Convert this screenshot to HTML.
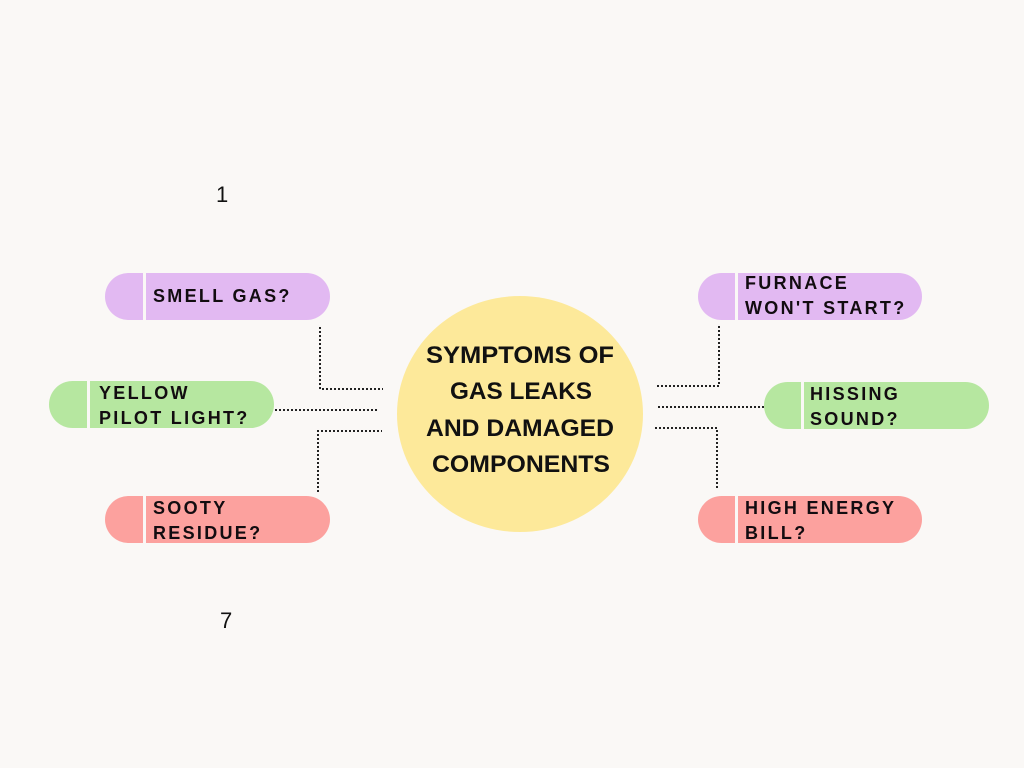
<!DOCTYPE html>
<html><head><style>
body{margin:0;width:1024px;height:768px;background:#faf8f6;position:relative;overflow:hidden;font-family:"Liberation Sans",sans-serif}
.p{position:absolute;height:47px;border-radius:24px;}
.p .d{position:absolute;top:0;bottom:0;width:3px;background:#faf8f6}
.p .t{position:absolute;font-weight:bold;font-size:18px;letter-spacing:2.3px;color:#120c10;line-height:25px;white-space:nowrap}
.pu{background:#e2b9f2}.gr{background:#b6e7a0}.rd{background:#fca19e}
.n{position:absolute;font-size:22px;color:#111}
</style></head><body>
<svg width="1024" height="768" style="position:absolute;left:0;top:0">
<ellipse cx="520" cy="414" rx="123" ry="118" fill="#fde99a"/>
<g stroke="#222" stroke-width="2" stroke-dasharray="2,2" fill="none">
<polyline points="320,327 320,389 383,389"/>
<line x1="275" y1="410" x2="378" y2="410"/>
<polyline points="318,492 318,431 382,431"/>
<polyline points="657,386 719,386 719,325"/>
<line x1="658" y1="407" x2="764" y2="407"/>
<polyline points="655,428 717,428 717,490"/>
</g>
<g font-family="Liberation Sans" font-weight="bold" font-size="24" fill="#111" text-anchor="middle">
<text x="520" y="363" textLength="188" lengthAdjust="spacingAndGlyphs">SYMPTOMS OF</text>
<text x="521" y="399" textLength="142" lengthAdjust="spacingAndGlyphs">GAS LEAKS</text>
<text x="520" y="436" textLength="188" lengthAdjust="spacingAndGlyphs">AND DAMAGED</text>
<text x="521" y="472" textLength="178" lengthAdjust="spacingAndGlyphs">COMPONENTS</text>
</g>
</svg>
<div class="n" style="left:216px;top:182px">1</div>
<div class="n" style="left:220px;top:608px">7</div>

<div class="p pu" style="left:105px;top:273px;width:225px"><div class="d" style="left:38px"></div><div class="t" style="left:48px;top:11px">SMELL GAS?</div></div>
<div class="p gr" style="left:49px;top:381px;width:225px"><div class="d" style="left:38px"></div><div class="t" style="left:50px;top:0px">YELLOW<br>PILOT LIGHT?</div></div>
<div class="p rd" style="left:105px;top:496px;width:225px"><div class="d" style="left:38px"></div><div class="t" style="left:48px;top:0px">SOOTY<br>RESIDUE?</div></div>

<div class="p pu" style="left:698px;top:273px;width:224px"><div class="d" style="left:37px"></div><div class="t" style="left:47px;top:-2px">FURNACE<br>WON'T START?</div></div>
<div class="p gr" style="left:764px;top:382px;width:225px"><div class="d" style="left:37px"></div><div class="t" style="left:46px;top:0px">HISSING<br>SOUND?</div></div>
<div class="p rd" style="left:698px;top:496px;width:224px"><div class="d" style="left:37px"></div><div class="t" style="left:47px;top:0px">HIGH ENERGY<br>BILL?</div></div>
</body></html>
